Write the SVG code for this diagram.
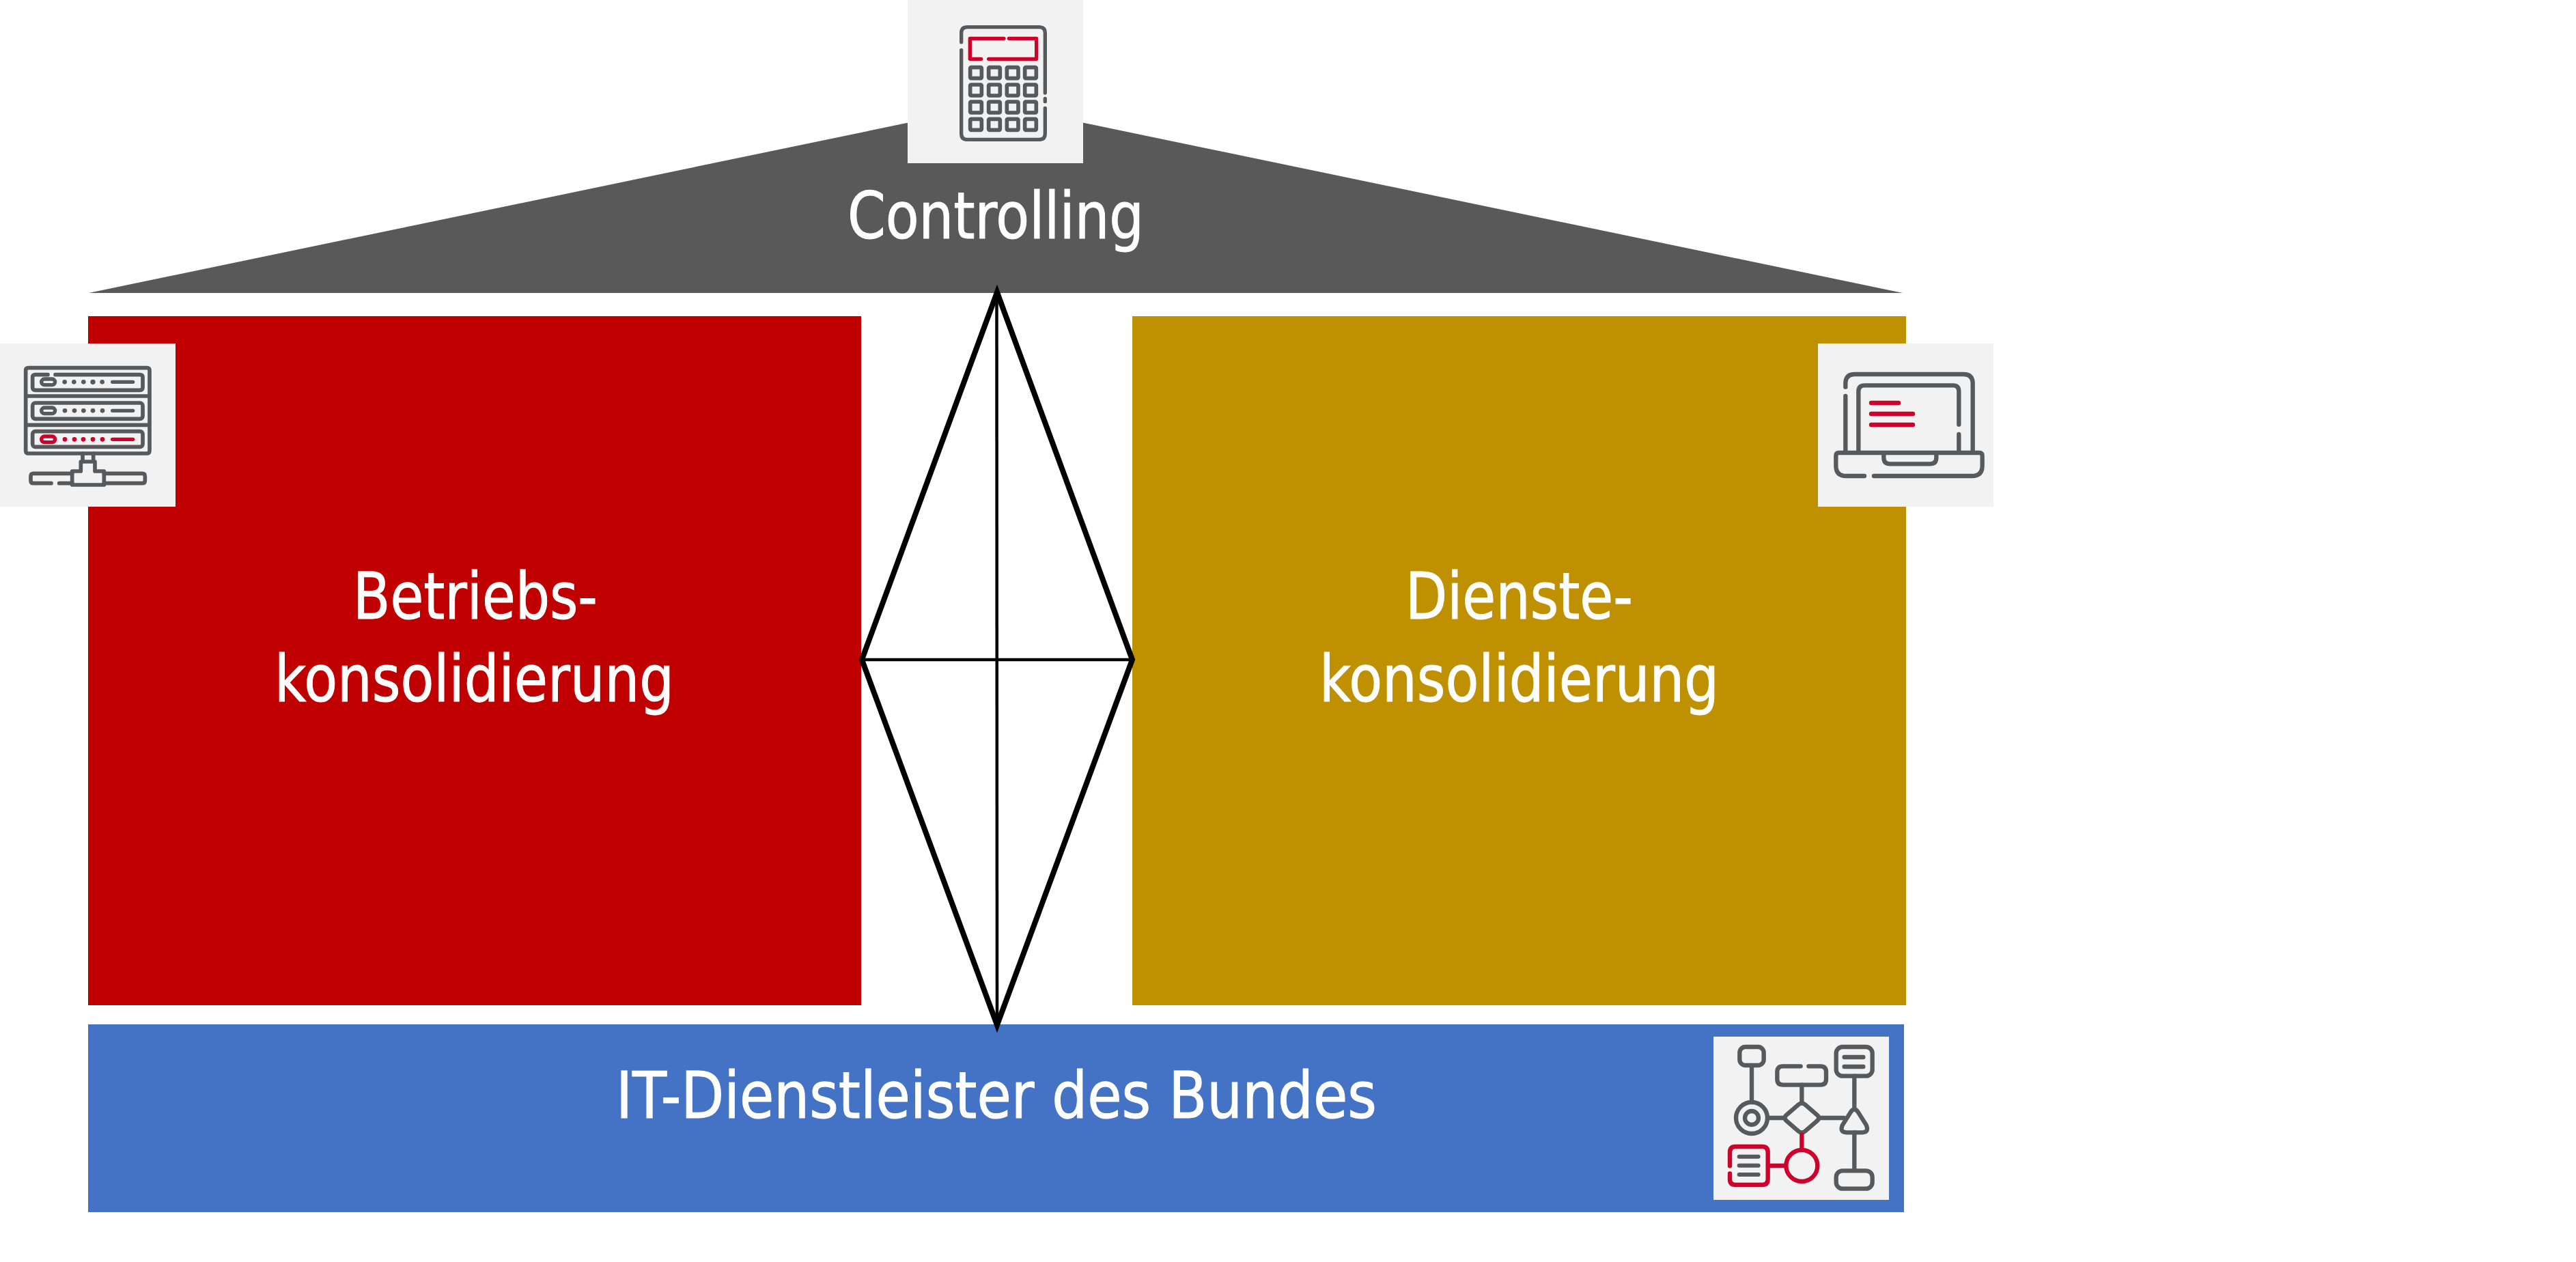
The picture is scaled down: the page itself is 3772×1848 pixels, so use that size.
<svg xmlns="http://www.w3.org/2000/svg" xmlns:xlink="http://www.w3.org/1999/xlink" width="3772" height="1848" viewBox="0 0 3772 1848">
<style>
.lbl{font-family:"DejaVu Sans","Liberation Sans",sans-serif;font-size:94px;fill:#fff;stroke:#fff;stroke-width:1;font-stretch:condensed}
.box{fill:#f2f2f2}
.i{fill:none;stroke:#58595b;stroke-linecap:round;stroke-linejoin:round}
.r{fill:none;stroke:#cf0029;stroke-linecap:round;stroke-linejoin:round}
.d{fill:#58595b}
.e{fill:#cf0029}
.c{fill:none;stroke:#000}
</style>
<defs>
<rect id="key" x="-25" y="-24" width="50" height="48" rx="4" class="i" stroke-width="17"/>
</defs>
<rect width="3772" height="1848" fill="#fff"/>
<g id="roof">
<polygon points="130,429 2786,429 1458,153" fill="#595959"/>
<text class="lbl" x="1241" y="349" textLength="434" lengthAdjust="spacingAndGlyphs">Controlling</text>
</g>
<g id="betrieb">
<rect x="129" y="463" width="1132" height="1009" fill="#c00000"/>
<text class="lbl" x="517" y="906" textLength="358" lengthAdjust="spacingAndGlyphs">Betriebs-</text>
<text class="lbl" x="402" y="1027" textLength="585" lengthAdjust="spacingAndGlyphs">konsolidierung</text>
</g>
<g id="dienste">
<rect x="1658" y="463" width="1133" height="1009" fill="#bf9000"/>
<text class="lbl" x="2058" y="906" textLength="333" lengthAdjust="spacingAndGlyphs">Dienste-</text>
<text class="lbl" x="1932" y="1027" textLength="585" lengthAdjust="spacingAndGlyphs">konsolidierung</text>
</g>
<g id="dienstleister">
<rect x="129" y="1500" width="2659" height="275" fill="#4472c4"/>
<text class="lbl" x="902" y="1637" textLength="1114" lengthAdjust="spacingAndGlyphs">IT-Dienstleister des Bundes</text>
</g>
<g id="connectors">
<polygon class="c" stroke-width="8" stroke-linejoin="miter" stroke-miterlimit="10" points="1460,428 1658,966 1460,1501 1262,966"/>
<line class="c" stroke-width="4.5" x1="1459.5" y1="428" x2="1460" y2="1501"/>
<line class="c" stroke-width="4.5" x1="1262" y1="966" x2="1658" y2="966"/>
</g>
<g id="icon-calculator">
<rect class="box" x="1329" y="0" width="257" height="239"/>
<g transform="translate(1280 0) scale(.33333)">
<path class="i" stroke-width="16" d="M383 185V145Q383 119 409 119H725Q751 119 751 145V408M751 475V587Q751 613 725 613H409Q383 613 383 587V220M751 433V446"/>
<path class="r" stroke-width="16" d="M570 169H421V259H470M503 259H713V169H592"/>
<use xlink:href="#key" x="447" y="320"/><use xlink:href="#key" x="528" y="320"/><use xlink:href="#key" x="608" y="320"/><use xlink:href="#key" x="687" y="320"/>
<use xlink:href="#key" x="447" y="396"/><use xlink:href="#key" x="528" y="396"/><use xlink:href="#key" x="608" y="396"/><use xlink:href="#key" x="687" y="396"/>
<use xlink:href="#key" x="447" y="471"/><use xlink:href="#key" x="528" y="471"/><use xlink:href="#key" x="608" y="471"/><use xlink:href="#key" x="687" y="471"/>
<use xlink:href="#key" x="447" y="547"/><use xlink:href="#key" x="528" y="547"/><use xlink:href="#key" x="608" y="547"/><use xlink:href="#key" x="687" y="547"/>
</g>
</g>
<g id="icon-server">
<rect class="box" x="0" y="503" width="257" height="239"/>
<g transform="translate(0 480) scale(.33333)">
<path class="i" stroke-width="17" d="M113 300V188Q113 176 125 176H645Q657 176 657 188V300M113 300H657M113 300V427M657 300V427M113 427H657M113 427V540Q113 552 125 552H645Q657 552 657 540V427"/>
<path class="i" stroke-width="17" d="M210 206H155Q143 206 143 218V262Q143 274 155 274H615Q627 274 627 262V218Q627 206 615 206H243"/>
<rect class="i" stroke-width="17" x="143" y="330" width="484" height="70" rx="12"/>
<rect class="i" stroke-width="17" x="143" y="455" width="484" height="68" rx="12"/>
<rect class="i" stroke-width="16" x="182" y="225" width="60" height="26" rx="13"/>
<rect class="i" stroke-width="16" x="182" y="351" width="60" height="26" rx="13"/>
<rect class="r" stroke-width="16" x="182" y="477" width="60" height="26" rx="13"/>
<g class="d"><circle cx="284" cy="238" r="10"/><circle cx="325" cy="238" r="10"/><circle cx="367" cy="238" r="10"/><circle cx="408" cy="238" r="11"/><circle cx="449" cy="238" r="10"/>
<circle cx="285" cy="364" r="10"/><circle cx="327" cy="364" r="10"/><circle cx="367" cy="364" r="10"/><circle cx="408" cy="364" r="10"/><circle cx="450" cy="364" r="10"/></g>
<g class="e"><circle cx="285" cy="490" r="10"/><circle cx="327" cy="490" r="10"/><circle cx="366" cy="490" r="10"/><circle cx="408" cy="490" r="10"/><circle cx="450" cy="490" r="10"/></g>
<path class="i" stroke-width="16" d="M494 238H584M494 364H584"/>
<path class="r" stroke-width="16" d="M494 490H584"/>
<path class="i" stroke-width="17" d="M363 552V588H355V630H317V690H457V630H417V588H410V552M363 588H410"/>
<path class="i" stroke-width="17" d="M225 683H147Q135 683 135 671V652Q135 640 147 640H317M457 640H625Q637 640 637 652V671Q637 683 625 683H457M260 683H317"/>
</g>
</g>
<g id="icon-laptop">
<rect class="box" x="2662" y="503" width="257" height="239"/>
<g transform="translate(2640 480) scale(.33333)">
<path class="i" stroke-width="19" d="M187 260V245Q187 204 228 204H705Q746 204 746 245V548M187 300V548"/>
<path class="i" stroke-width="19" d="M244 548V280Q244 253 271 253H660Q685 253 685 280V425M685 468V548"/>
<path class="r" stroke-width="19" d="M300 330H420M300 378H483M300 426H483"/>
<path class="i" stroke-width="19" d="M270 651H190Q145 651 145 606V562Q145 549 158 549H775Q788 549 788 562V606Q788 651 743 651H312M355 549V570Q355 598 383 598H558Q586 598 586 570V549"/>
</g>
</g>
<g id="icon-flow">
<rect class="box" x="2509" y="1518" width="257" height="239"/>
<g transform="translate(2480 1490) scale(.33333)">
<g class="i" stroke-width="19">
<rect x="202" y="129" width="106" height="81" rx="25"/>
<path d="M255 210V370M324 441H395M552 441H660M475 296V376M706 257V400M706 505V672"/>
<circle cx="255" cy="441" r="69"/><circle cx="255" cy="441" r="30"/>
<path d="M460 383Q475 370 490 383L542 428Q557 441 542 454L490 499Q475 512 460 499L408 454Q393 441 408 428Z"/>
<path d="M470 214H392Q367 214 367 239V271Q367 296 392 296H557Q582 296 582 271V239Q582 214 557 214H505"/>
<rect x="626" y="129" width="159" height="128" rx="28"/>
<path d="M662 174H745M662 216H745"/>
<path d="M690 415Q706 392 722 415L758 472Q772 505 740 505H672Q640 505 654 472Z"/>
<rect x="626" y="673" width="159" height="79" rx="28"/>
</g>
<g class="r" stroke-width="19">
<path d="M475 514V578M330 651H405"/>
<circle cx="475" cy="651" r="69"/>
<path d="M159 652V592Q159 567 184 567H301Q326 567 326 592V710Q326 735 301 735H184Q159 735 159 710V685"/>
</g>
<path class="i" stroke-width="18" d="M200 611H284M200 650H284M200 690H284"/>
</g>
</g>
</svg>
